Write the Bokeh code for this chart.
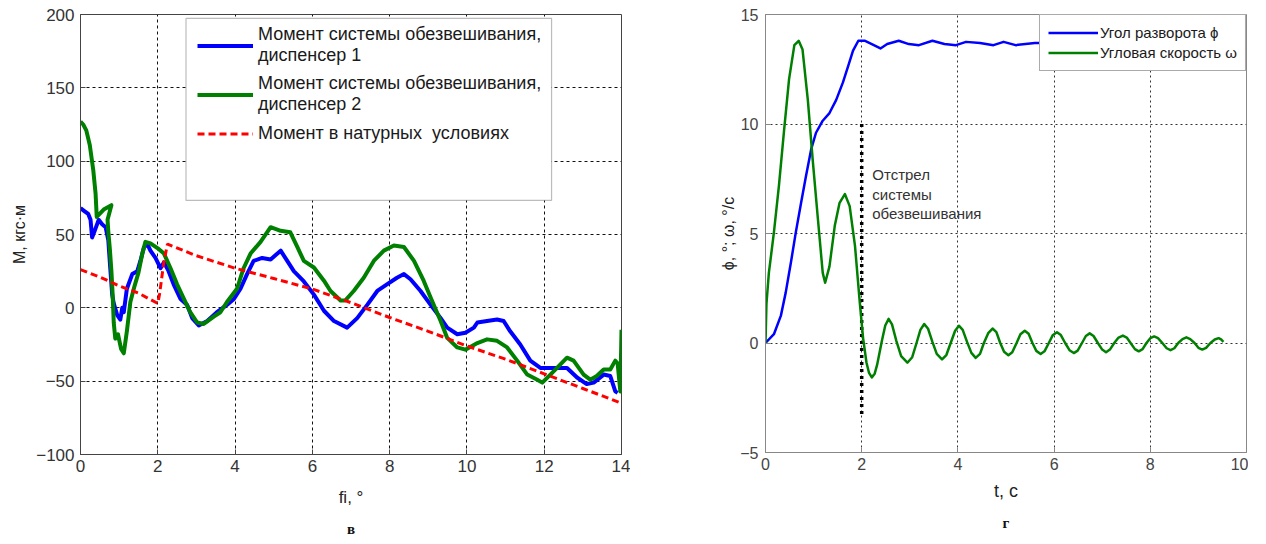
from bokeh.plotting import figure
from bokeh.models import Range1d, Legend, LegendItem, BoxAnnotation, Label, Title, FixedTicker
from bokeh.layouts import row
from bokeh.embed import file_html
from bokeh.resources import INLINE

# ---------------- left chart (в) ----------------
fi_blue = [0.0, 0.1, 0.2, 0.26, 0.3, 0.36, 0.47, 0.56, 0.65, 0.72, 0.77, 0.82, 0.86, 0.95, 1.03, 1.08, 1.12,
           1.2, 1.34, 1.47, 1.55, 1.64, 1.72, 1.81, 1.94, 2.07, 2.16, 2.28, 2.41, 2.59, 2.76, 2.89, 3.06,
           3.28, 3.53, 3.79, 3.97, 4.14, 4.31, 4.48, 4.7, 4.92, 5.18, 5.35, 5.52, 5.78, 6.04, 6.3, 6.56,
           6.9, 7.16, 7.42, 7.68, 7.93, 8.19, 8.37, 8.54, 8.8, 9.06, 9.32, 9.49, 9.75, 9.96, 10.18, 10.27,
           10.52, 10.78, 10.95, 11.12, 11.38, 11.64, 11.9, 12.24, 12.59, 12.85, 13.1, 13.28, 13.54, 13.71,
           13.84, 13.9]
m_blue = [68, 66, 64, 60, 48, 52, 60, 57, 55, 46, 27, 9, 3, -5, -8, 0, -3,
          13, 23, 25, 32, 41, 44, 39, 34, 27, 31, 25, 16, 6, 2, -7, -12,
          -9, -3, 2, 6, 13, 23, 32, 34, 33, 39, 32, 25, 18, 9, -2, -9,
          -13.5, -7, 2, 11.5, 16, 20.5, 23, 19.5, 11.5, 2, -7, -13.5, -18, -17, -13.5, -10,
          -9, -8, -9, -16, -25, -36, -41, -41, -41, -47.5, -52, -51, -45.5, -46.5,
          -57, -58]

fi_green = [0.0, 0.07, 0.15, 0.24, 0.33, 0.39, 0.42, 0.6, 0.8, 0.7, 0.72, 0.76, 0.8, 0.83, 0.86, 0.9,
            0.97, 1.05, 1.12, 1.2, 1.29, 1.4, 1.5, 1.6, 1.68, 1.81, 2.03, 2.16, 2.33, 2.5, 2.67, 2.84,
            3.02, 3.19, 3.45, 3.62, 3.79, 4.05, 4.22, 4.4, 4.66, 4.92, 5.18, 5.43, 5.61, 5.78, 6.04, 6.3,
            6.47, 6.73, 6.85, 7.07, 7.33, 7.59, 7.85, 8.11, 8.37, 8.63, 8.88, 9.06, 9.32, 9.49, 9.75, 9.96,
            10.27, 10.52, 10.78, 11.04, 11.3, 11.56, 11.82, 11.95, 12.16, 12.42, 12.59, 12.76, 13.02, 13.19,
            13.36, 13.54, 13.71, 13.84, 13.9, 13.97, 14.0]
m_green = [127, 125, 121, 111, 94, 78, 62, 67, 70, 60, 52, 40, 25, 10, -10, -21,
           -18, -28, -31, -16, 4, 15, 24, 37, 45, 44, 40, 37, 27, 16, 6.5, -3,
           -10, -11, -6, -3, 4, 13, 27, 37, 45, 55, 52.5, 51.5, 41.5, 32, 27.5, 18.5,
           11.5, 5, 5, 11.5, 20.5, 32, 39, 42.5, 41.5, 32, 18.5, 7, -9, -20.5, -27, -28.5,
           -24, -21.5, -22.5, -27, -36, -45.5, -49, -51, -45.5, -38.5, -34, -36, -45.5, -49,
           -46.5, -42, -42, -36, -38, -57, -15]

fi_red = [0.0, 0.5, 1.0, 1.5, 2.0, 2.05, 2.15, 2.25, 3.0, 4.0, 5.0, 6.0, 7.0, 8.0, 9.0, 10.0, 11.0, 12.0, 13.0, 14.0]
m_red = [26, 21, 15, 10, 3, 10, 30, 43.5, 35.5, 27, 20, 12.8, 3.5, -6.6, -16, -26, -35, -45, -55, -65]

left_labels = ["Момент системы обезвешивания,\nдиспенсер 1",
               "Момент системы обезвешивания,\nдиспенсер 2",
               "Момент в натурных  условиях"]

# ---------------- right chart (г) ----------------
t_phi = [0.0, 0.175, 0.32, 0.42, 0.53, 0.63, 0.74, 0.84, 0.95, 1.05, 1.19, 1.33, 1.47, 1.61, 1.72, 1.82,
         1.93, 2.07, 2.21, 2.39, 2.53, 2.77, 2.98, 3.19, 3.47, 3.72, 3.96, 4.17, 4.46, 4.74, 4.95, 5.2, 5.6, 5.75]
phi = [0.0, 0.4, 1.25, 2.3, 3.7, 5.05, 6.4, 7.6, 8.85, 9.6, 10.15, 10.5, 11.1, 11.9, 12.65, 13.35,
       13.8, 13.8, 13.65, 13.45, 13.65, 13.8, 13.65, 13.6, 13.8, 13.65, 13.6, 13.75, 13.7, 13.6, 13.75, 13.6, 13.7, 13.7]

t_omega = [0.0, 0.02, 0.07, 0.175, 0.28, 0.39, 0.49, 0.6, 0.69, 0.77, 0.88, 0.98, 1.09, 1.19, 1.24, 1.33,
           1.44, 1.54, 1.65, 1.75, 1.86, 1.96, 2.03,
           2.1, 2.15, 2.21, 2.27, 2.32, 2.42, 2.49, 2.56, 2.63, 2.72, 2.82, 2.95, 3.05, 3.14, 3.22, 3.3,
           3.38, 3.47, 3.56, 3.67, 3.76, 3.85, 3.94, 4.02, 4.1, 4.19, 4.28, 4.37, 4.46, 4.54, 4.63, 4.72,
           4.8, 4.88, 4.96, 5.05, 5.13, 5.22, 5.3, 5.39, 5.47, 5.55, 5.63, 5.72, 5.8, 5.89, 5.97, 6.06,
           6.14, 6.23, 6.32, 6.41, 6.49, 6.58, 6.66, 6.74, 6.82, 6.91, 7.0, 7.08, 7.16, 7.25, 7.34, 7.43,
           7.51, 7.59, 7.68, 7.76, 7.84, 7.92, 8.0, 8.08, 8.16, 8.25, 8.34, 8.42, 8.5, 8.58, 8.67, 8.75,
           8.83, 8.92, 9.0, 9.08, 9.16, 9.25, 9.34, 9.42, 9.48, 9.52]
omega = [0.0, 1.8, 3.2, 5.05, 7.2, 9.8, 12.05, 13.6, 13.8, 13.4, 11.1, 8.4, 5.65, 3.2, 2.75, 3.5,
         5.35, 6.4, 6.8, 6.25, 4.45, 1.85, 0.2,
         -0.9, -1.35, -1.57, -1.4, -1.0, 0.1, 0.8, 1.1, 0.85, 0.1, -0.6, -0.9, -0.65, 0.0, 0.6, 0.87,
         0.65, 0.05, -0.5, -0.75, -0.55, 0.0, 0.55, 0.79, 0.6, 0.05, -0.45, -0.68, -0.5, 0.0, 0.45, 0.66,
         0.5, 0.0, -0.4, -0.56, -0.42, 0.0, 0.4, 0.56, 0.42, 0.0, -0.36, -0.5, -0.38, 0.0, 0.35, 0.49,
         0.36, 0.0, -0.33, -0.46, -0.35, 0.0, 0.32, 0.44, 0.32, 0.0, -0.3, -0.42, -0.3, 0.0, 0.25, 0.34,
         0.25, 0.0, -0.28, -0.38, -0.28, 0.0, 0.22, 0.3, 0.22, 0.0, -0.24, -0.33, -0.24, 0.0, 0.18, 0.26,
         0.18, 0.0, -0.22, -0.3, -0.22, 0.0, 0.16, 0.22, 0.15, 0.05]

release_t = [2.0, 2.0]
release_y = [10.0, -3.3]

right_labels = ["Угол разворота ϕ", "Угловая скорость ω"]
release_text = ["Отстрел", "системы", "обезвешивания"]
panel_letters = ["в", "г"]

FONT = "Liberation Sans"


def style(p, grid_dash, grid_color, axis_color, tick_color, tick_size, xticks, yticks):
    p.xaxis.ticker = FixedTicker(ticks=xticks)
    p.yaxis.ticker = FixedTicker(ticks=yticks)
    for ax in (p.xaxis, p.yaxis):
        ax.major_tick_in = 5
        ax.major_tick_out = 0
        ax.minor_tick_line_color = None
        ax.axis_line_color = axis_color
        ax.major_tick_line_color = axis_color
        ax.major_label_text_font = FONT
        ax.major_label_text_font_size = tick_size
        ax.major_label_text_color = tick_color
        ax.axis_label_text_font = FONT
        ax.axis_label_text_font_style = "normal"
        ax.axis_label_text_color = "#222222"
    p.grid.grid_line_color = grid_color
    p.grid.grid_line_dash = grid_dash
    p.grid.grid_line_width = 1
    p.outline_line_color = axis_color
    p.background_fill_color = "white"
    p.border_fill_color = "white"


def letter(txt, standoff):
    return Title(text=txt, align="center", text_font="Liberation Serif", text_font_style="bold",
                 text_font_size="15px", text_color="#111111", standoff=standoff)


# ---------- left figure ----------
p1 = figure(frame_width=541, frame_height=440, min_border_left=80, min_border_right=9,
            min_border_top=9, min_border_bottom=86,
            x_range=Range1d(0, 14), y_range=Range1d(-100, 200),
            output_backend="svg", toolbar_location=None)
style(p1, "3 3", "#111111", "#444444", "#333333", "17px",
      [0, 2, 4, 6, 8, 10, 12, 14], [-100, -50, 0, 50, 100, 150, 200])
p1.xaxis.axis_label = "fi, °"
p1.yaxis.axis_label = "M, кгс·м"
p1.xaxis.axis_label_text_font_size = "17px"
p1.yaxis.axis_label_text_font_size = "16px"
p1.xaxis.major_label_standoff = 5
p1.xaxis.axis_label_standoff = 13
p1.yaxis.major_label_standoff = 6
p1.yaxis.axis_label_standoff = 5

r_red = p1.line(fi_red, m_red, line_color="#ff0000", line_width=3, line_dash="7 4")
r_green = p1.line(fi_green, m_green, line_color="#008000", line_width=4, line_join="round")
r_blue = p1.line(fi_blue, m_blue, line_color="#0000ff", line_width=4, line_join="round")
p1.renderers = [r_blue, r_green, r_red]

box1 = BoxAnnotation(left=2.73, right=12.19, bottom=73.2, top=197.3,
                     fill_color="white", fill_alpha=1.0, line_color="#222222", line_width=1.2)
p1.add_layout(box1)
leg1 = Legend(items=[LegendItem(label=left_labels[0], renderers=[r_blue]),
                     LegendItem(label=left_labels[1], renderers=[r_green]),
                     LegendItem(label=left_labels[2], renderers=[r_red])],
              location=(113, 305), border_line_alpha=0, background_fill_alpha=0,
              padding=4, spacing=7, glyph_width=56, glyph_height=23, label_height=23,
              label_standoff=5, label_text_font=FONT, label_text_font_size="18px",
              label_text_line_height=1.3, label_text_color="#1a1a1a")
p1.add_layout(leg1)
p1.add_layout(letter(panel_letters[0], 18), "below")

# ---------- right figure ----------
p2 = figure(frame_width=481, frame_height=438, min_border_left=135, min_border_right=2,
            min_border_top=14, min_border_bottom=83,
            x_range=Range1d(0, 10), y_range=Range1d(-5, 15),
            output_backend="svg", toolbar_location=None)
style(p2, "2 3", "#333333", "#888888", "#444444", "16px",
      [0, 2, 4, 6, 8, 10], [-5, 0, 5, 10, 15])
p2.xaxis.axis_label = "t, c"
p2.yaxis.axis_label = "ϕ, °; ω, °/с"
p2.xaxis.axis_label_text_font_size = "18px"
p2.yaxis.axis_label_text_font_size = "16px"
p2.xaxis.major_label_standoff = 5
p2.xaxis.axis_label_standoff = 8
p2.yaxis.major_label_standoff = 7
p2.yaxis.axis_label_standoff = 0

p2.line(release_t, release_y, line_color="black", line_width=3.5, line_dash="3 4")
r_phi = p2.line(t_phi, phi, line_color="#0000ff", line_width=2.5, line_join="round")
r_om = p2.line(t_omega, omega, line_color="#008000", line_width=2.5, line_join="round")

for i, txt in enumerate(release_text):
    p2.add_layout(Label(x=2.22, y=7.7 - i * 0.9, text=txt, text_font=FONT, text_font_size="15px",
                        text_color="#333333", text_baseline="middle"))

leg2 = Legend(items=[LegendItem(label=right_labels[0], renderers=[r_phi]),
                     LegendItem(label=right_labels[1], renderers=[r_om])],
              location="top_right", margin=0, border_line_color="#555555", border_line_width=1,
              background_fill_color="white", background_fill_alpha=1.0,
              padding=8, spacing=1, glyph_width=50, glyph_height=19, label_height=19,
              label_standoff=2, label_text_font=FONT, label_text_font_size="15px",
              label_text_color="#1a1a1a")
p2.add_layout(leg2)
p2.add_layout(letter(panel_letters[1], 18), "below")

layout = row(p1, p2)
open("out.html", "w").write(file_html(layout, INLINE))
